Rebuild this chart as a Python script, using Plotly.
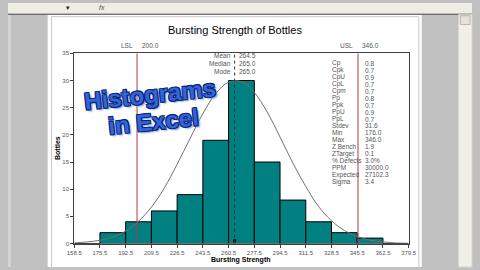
import plotly.graph_objects as go

# ---------------- data ----------------
bin_edges = [158.5, 175.5, 192.5, 209.5, 226.5, 243.5, 260.5, 277.5,
             294.5, 311.5, 328.5, 345.5, 362.5, 379.5]
counts = [0, 2, 4, 6, 9, 19, 30, 15, 8, 4, 2, 1, 0]

curve_x = [158.5, 167, 175.5, 184, 192.5, 201, 209.5, 218, 226.5, 235, 243.5,
           252, 260.5, 269, 277.5, 286, 294.5, 303, 311.5, 320, 328.5, 337,
           345.5, 354, 362.5, 371, 379.5]
curve_y = [0.1, 0.3, 0.6, 1.2, 2.3, 4.1, 6.7, 10.2, 14.6, 19.3, 23.9, 27.6,
           29.7, 29.8, 27.8, 24.2, 19.6, 14.8, 10.5, 6.8, 4.2, 2.4, 1.3, 0.6,
           0.3, 0.1, 0.05]

lsl, usl, mean_val = 200.0, 346.0, 264.5

center_labels = ["Mean", "Median", "Mode"]
center_values = ["264.5", "265.0", "265.0"]

stat_labels = ["Cp", "Cpk", "CpU", "CpL", "Cpm", "Pp", "Ppk", "PpU", "PpL",
               "Stdev", "Min", "Max", "Z Bench", "ZTarget", "% Defects",
               "PPM", "Expected", "Sigma"]
stat_values = ["0.8", "0.7", "0.9", "0.7", "0.7", "0.8", "0.7", "0.9", "0.7",
               "31.6", "176.0", "346.0", "1.9", "0.1", "3.0%", "30000.0",
               "27102.3", "3.4"]

y_ticks = [0, 5, 10, 15, 20, 25, 30, 35]

# ---------------- helpers ----------------
W, H = 480, 270
def px(x):
    return x / W
def py(y):
    return 1 - y / H

centers = [(bin_edges[i] + bin_edges[i + 1]) / 2 for i in range(len(counts))]
widths = [bin_edges[i + 1] - bin_edges[i] for i in range(len(counts))]

fig = go.Figure()

fig.add_trace(go.Bar(
    x=centers, y=counts, width=widths,
    marker=dict(color="#008080", line=dict(color="#000000", width=1)),
    hoverinfo="skip", showlegend=False))

fig.add_trace(go.Scatter(
    x=curve_x, y=curve_y, mode="lines", line=dict(color="#707070", width=1, shape="spline"),
    hoverinfo="skip", showlegend=False))

fig.add_trace(go.Scatter(
    x=[mean_val], y=[0.5], mode="markers",
    marker=dict(color="#000000", size=3, symbol="square"),
    hoverinfo="skip", showlegend=False))

shapes = []
# Excel chrome
shapes.append(dict(type="rect", xref="paper", yref="paper", x0=0, x1=1, y0=0, y1=1,
                   fillcolor="#C0C0C0", line=dict(width=0), layer="below"))
shapes.append(dict(type="rect", xref="paper", yref="paper", x0=px(0), x1=px(3), y0=py(270), y1=py(12),
                   fillcolor="#D4D4D4", line=dict(width=0), layer="below"))
shapes.append(dict(type="rect", xref="paper", yref="paper", x0=px(41), x1=px(428), y0=py(270), y1=py(12),
                   fillcolor="#FFFFFF", line=dict(width=0), layer="below"))
shapes.append(dict(type="rect", xref="paper", yref="paper", x0=px(45), x1=px(425), y0=py(272), y1=py(14),
                   fillcolor="rgba(0,0,0,0)", line=dict(color="#C8C8C8", width=1), layer="below"))
shapes.append(dict(type="rect", xref="paper", yref="paper", x0=0, x1=1, y0=py(11), y1=1,
                   fillcolor="#EEEDE4", line=dict(width=0), layer="below"))
shapes.append(dict(type="line", xref="paper", yref="paper", x0=0, x1=1, y0=py(11.5), y1=py(11.5),
                   line=dict(color="#505050", width=1), layer="below"))
shapes.append(dict(type="rect", xref="paper", yref="paper", x0=px(466), x1=1, y0=0, y1=py(12),
                   fillcolor="#F1F0E8", line=dict(color="#D8D6C8", width=1), layer="below"))
shapes.append(dict(type="rect", xref="paper", yref="paper", x0=px(468), x1=px(478), y0=py(22), y1=py(13),
                   fillcolor="#E4E2D6", line=dict(color="#B8B6A8", width=1), layer="below"))
# spec and mean lines
for xv in (lsl, usl):
    shapes.append(dict(type="line", xref="x", yref="y", x0=xv, x1=xv, y0=0, y1=35,
                       line=dict(color="#B83A3A", width=1)))
shapes.append(dict(type="line", xref="x", yref="y", x0=mean_val, x1=mean_val, y0=0, y1=35,
                   line=dict(color="#303030", width=1, dash="dot")))

annotations = []
def txt(x, y, s, size=6.5, color="#555555", xanchor="left", **kw):
    annotations.append(dict(x=px(x), y=py(y), xref="paper", yref="paper", text=s,
                            showarrow=False, xanchor=xanchor, yanchor="middle",
                            font=dict(size=size, color=color, family="Liberation Sans, Arial"), **kw))

# toolbar glyphs
txt(62, 5, "▾", size=7, color="#222222", xanchor="center")
txt(97, 5, "<i>fx</i>", size=7, color="#555555", xanchor="center")

# title
txt(235, 28, "Bursting Strength of Bottles", size=11, color="#000000", xanchor="center")
# spec labels
txt(131, 43.5, "LSL", xanchor="right")
txt(137, 43.5, "200.0")
txt(359, 43.5, "USL", xanchor="right")
txt(364, 43.5, "346.0")
# center table
for i, (l, v) in enumerate(zip(center_labels, center_values)):
    txt(233, 54 + 8 * i, l, xanchor="right")
    txt(237, 54 + 8 * i, v)
# stats table
for i, (l, v) in enumerate(zip(stat_labels, stat_values)):
    txt(333, 61.7 + 7.12 * i, l)
    txt(367, 61.7 + 7.12 * i, v)
# axis titles
txt(241, 263, "<b>Bursting Strength</b>", size=7, color="#000000", xanchor="center")
txt(51, 148, "<b>Bottles</b>", size=7, color="#000000", xanchor="center", textangle=-90)

# WordArt
wa_shadow = ("-1px -1px 0 #0b2275, 1px -1px 0 #0b2275, -1px 1px 0 #0b2275, "
             "1px 1px 0 #0b2275, 2px 2px 2px #6f95e0")
for s, x, y in (("Histograms", 147, 94), ("in Excel", 150, 121)):
    annotations.append(dict(x=px(x), y=py(y), xref="paper", yref="paper", text="<b>%s</b>" % s,
                            showarrow=False, xanchor="center", yanchor="middle", textangle=-6,
                            font=dict(size=24, color="#2f66d8", family="Liberation Sans, Arial",
                                      shadow=wa_shadow)))

fig.update_layout(
    width=W, height=H, margin=dict(l=0, r=0, t=0, b=0),
    paper_bgcolor="#C0C0C0", plot_bgcolor="rgba(0,0,0,0)",
    bargap=0, shapes=shapes, annotations=annotations, showlegend=False,
    xaxis=dict(domain=[px(68.5), px(414.5)], range=[bin_edges[0], bin_edges[-1]],
               tickvals=bin_edges, ticktext=["%.1f" % v for v in bin_edges],
               ticks="outside", ticklen=3, tickcolor="#404040",
               showline=True, linecolor="#404040", linewidth=1, mirror=True,
               showgrid=False, zeroline=False,
               tickfont=dict(size=6, color="#555555", family="Liberation Sans, Arial")),
    yaxis=dict(domain=[py(246), py(51.5)], range=[0, 35], tickvals=y_ticks,
               ticks="outside", ticklen=3, tickcolor="#404040",
               showline=True, linecolor="#404040", linewidth=1, mirror=True,
               showgrid=False, zeroline=False,
               tickfont=dict(size=6, color="#555555", family="Liberation Sans, Arial")),
)

fig.write_html("out.html", config={"displayModeBar": False, "staticPlot": True})
